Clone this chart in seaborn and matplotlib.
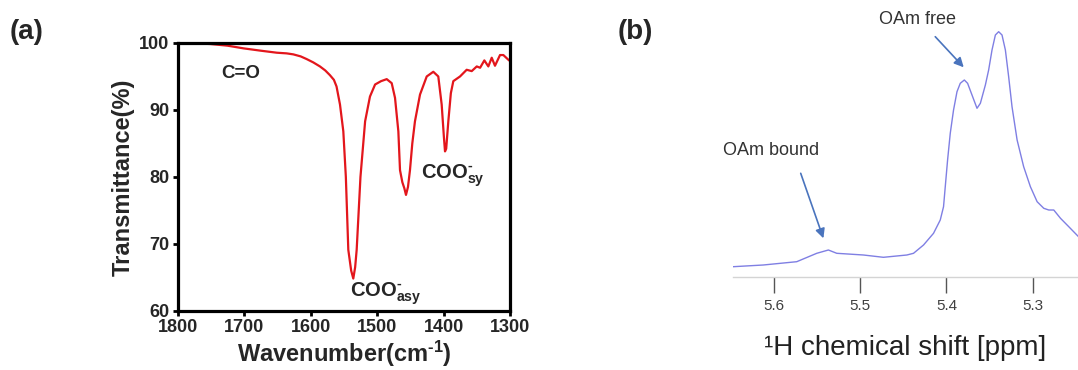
import matplotlib
matplotlib.use("Agg")
import matplotlib.pyplot as plt
import seaborn as sns
import numpy as np

# ---------------- data ----------------
# (a) FTIR spectrum
wavenumber = [1800, 1775, 1751, 1725, 1701, 1675, 1651, 1636, 1626, 1615, 1606, 1596, 1586,
              1578, 1571, 1565, 1561,
              1555.8, 1550.8, 1547, 1543.3, 1539, 1535.8, 1533, 1530.7, 1525, 1518,
              1510.7, 1503, 1494, 1485.5, 1478, 1473, 1468, 1465.5, 1462, 1459, 1456.5,
              1453.5, 1450.5, 1447, 1443, 1435.4, 1425.3, 1415.4, 1407.9, 1402.8, 1399.5,
              1397.8, 1396, 1392.8, 1389, 1385.3, 1375.2, 1365.2, 1357.6, 1350, 1345,
              1338.6, 1332.6, 1327.5, 1322.6, 1315, 1310, 1302.5, 1300]
transmittance = [100, 99.95, 99.85, 99.6, 99.2, 98.85, 98.55, 98.45, 98.3, 98.0, 97.6, 97.1, 96.5,
                 95.9, 95.2, 94.5, 93.5,
                 90.8, 86.8, 80.0, 69.1, 66.0, 64.8, 66.5, 69.1, 80.0, 88.3,
                 92.0, 93.8, 94.3, 94.6, 94.0, 91.8, 86.8, 81.0, 79.2, 78.3, 77.3,
                 78.5, 81.0, 85.0, 88.3, 92.3, 95.0, 95.7, 95.0, 90.8, 86.0,
                 83.8, 84.2, 88.3, 92.5, 94.3, 95.0, 96.0, 95.8, 96.5, 96.3,
                 97.4, 96.5, 97.8, 96.6, 98.2, 98.2, 97.5, 97.3]
wn_ticks = [1800, 1700, 1600, 1500, 1400, 1300]
t_ticks = [60, 70, 80, 90, 100]

# (b) 1H NMR spectrum (arbitrary intensity)
ppm = [5.6473, 5.6124, 5.5736, 5.5504, 5.5369, 5.5272, 5.4963, 5.4731, 5.4459,
       5.4382, 5.4266, 5.4150, 5.4072, 5.4034, 5.4014, 5.3987, 5.3956, 5.3918, 5.3878,
       5.3840, 5.3793, 5.3755, 5.3704, 5.3646, 5.3607, 5.3549, 5.3511, 5.3472, 5.3433,
       5.3395, 5.3356, 5.3317, 5.3279, 5.3240, 5.3181, 5.3105, 5.3027, 5.2949, 5.2872,
       5.2814, 5.2756, 5.2678, 5.2582, 5.2469]
intensity = [10.3, 12.0, 15.3, 23.7, 27.0, 23.7, 22.0, 19.7, 22.0,
             23.7, 32.0, 43.7, 57.0, 70.3, 90.3, 117.0, 143.7, 167.0, 185.3,
             193.7, 197.0, 193.7, 182.0, 168.7, 173.7, 192.0, 207.0, 227.0, 242.0,
             245.3, 242.0, 227.0, 200.3, 170.3, 137.0, 110.3, 90.3, 75.3, 68.7,
             67.0, 67.0, 58.7, 50.3, 40.3]
ppm_ticks = [5.6, 5.5, 5.4, 5.3]
ppm_ticklabels = ["5.6", "5.5", "5.4", "5.3"]

# ---------------- style ----------------
sns.set_style("ticks")
plt.rcParams['font.family'] = ['Liberation Sans', 'DejaVu Sans']
plt.rcParams['mathtext.fontset'] = 'custom'
plt.rcParams['mathtext.rm'] = 'Liberation Sans:bold'
plt.rcParams['mathtext.it'] = 'Liberation Sans:bold:italic'
plt.rcParams['mathtext.bf'] = 'Liberation Sans:bold'

fig = plt.figure(figsize=(10.78, 3.70), dpi=100)

# ---------------- panel (a) ----------------
axa = fig.add_axes([177.7 / 1078, (370 - 310.7) / 370, 332.3 / 1078, 267.7 / 370])
sns.lineplot(x=wavenumber, y=transmittance, ax=axa, sort=False, estimator=None,
             color="#e3161c", linewidth=1.6)
axa.set_xlim(1800, 1300)
axa.set_ylim(60, 100)
axa.set_xticks(wn_ticks)
axa.set_yticks(t_ticks)
for s in axa.spines.values():
    s.set_linewidth(2.3)
    s.set_color("black")
axa.tick_params(axis='both', direction='out', length=3.5, width=2, labelsize=13,
                color="black", pad=2.5)
for lbl in axa.get_xticklabels() + axa.get_yticklabels():
    lbl.set_fontweight('bold')
axa.set_xlabel(r"Wavenumber(cm$^{\text{-1}}$)", fontsize=17, fontweight='bold', labelpad=2)
axa.set_ylabel("Transmittance(%)", fontsize=17, fontweight='bold', labelpad=3)

axa.text(1733.8, 95.5, "C=O", fontsize=13.5, fontweight='bold', ha='left', va='center')
axa.text(1433.9, 80.15, r"COO$^{\text{-}}_{\text{sy}}$", fontsize=14.5,
         fontweight='bold', ha='left', va='center')
axa.text(1540.7, 62.5, r"COO$^{\text{-}}_{\text{asy}}$", fontsize=14.5,
         fontweight='bold', ha='left', va='center')

# ---------------- panel (b) ----------------
axb = fig.add_axes([733 / 1078, 93 / 370, 345 / 1078, 252 / 370])
sns.lineplot(x=ppm, y=intensity, ax=axb, sort=False, estimator=None,
             color="#7f7fe3", linewidth=1.0)
axb.set_xlim(5.6475, 5.2475)
axb.set_ylim(0, 252)
axb.set_xticks(ppm_ticks)
axb.set_xticklabels(ppm_ticklabels)
axb.set_yticks([])
for side in ['top', 'right', 'left']:
    axb.spines[side].set_visible(False)
axb.spines['bottom'].set_color("#d4d4d4")
axb.spines['bottom'].set_linewidth(1.0)
axb.tick_params(axis='x', direction='out', length=11.5, width=1.0, color="#555555",
                labelsize=11, labelcolor="#404040", pad=4)
axb.set_xlabel("\u00b9H chemical shift [ppm]", fontsize=20, color="#222222", labelpad=16)

arrow_col = "#4a74bd"
axb.text(5.4336, 257.8, "OAm free", fontsize=13, color="#333333", ha='center',
         va='center', clip_on=False)
axb.annotate("", xy=(5.380, 209.7), xytext=(5.413, 240.3), annotation_clip=False,
             arrowprops=dict(arrowstyle='-|>', color=arrow_col, lw=1.2,
                             mutation_scale=14, shrinkA=0, shrinkB=0))
axb.text(5.6037, 126.2, "OAm bound", fontsize=13, color="#333333", ha='center',
         va='center', clip_on=False)
axb.annotate("", xy=(5.5427, 38.7), xytext=(5.569, 103.7), annotation_clip=False,
             arrowprops=dict(arrowstyle='-|>', color=arrow_col, lw=1.2,
                             mutation_scale=14, shrinkA=0, shrinkB=0))

# panel letters
fig.text(10 / 1078, 1 - 32 / 370, "(a)", fontsize=20, fontweight='bold', ha='left', va='center')
fig.text(618 / 1078, 1 - 32 / 370, "(b)", fontsize=20, fontweight='bold', ha='left', va='center')

fig.savefig("out.png", dpi=100)
